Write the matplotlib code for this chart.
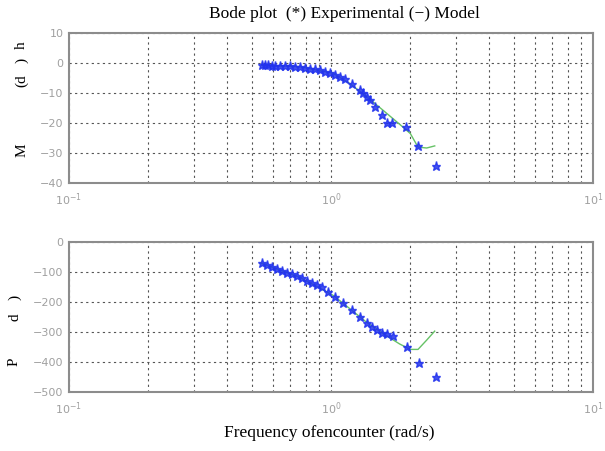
#!/usr/bin/env python3
"""Bode plot: experimental points (*) vs model line (-)."""

import matplotlib
matplotlib.use('Agg')

import matplotlib.pyplot as plt

# Experimental data - magnitude
freq_mag = [0.544, 0.560, 0.576, 0.594, 0.611, 0.639, 0.667, 0.698, 0.729, 0.762,
            0.796, 0.832, 0.869, 0.908, 0.949, 0.991, 1.036, 1.083, 1.131, 1.20,
            1.29, 1.33, 1.37, 1.41, 1.47, 1.56, 1.63, 1.71, 1.94, 2.15, 2.51]
mag_exp = [-0.7, -0.7, -0.7, -0.8, -0.9, -0.9, -1.0, -1.0, -1.2, -1.3,
           -1.6, -1.8, -2.0, -2.3, -2.9, -3.4, -4.0, -4.6, -5.4, -6.8,
           -9.0, -10.1, -11.2, -12.3, -14.6, -17.4, -19.9, -20.1, -21.4, -27.6, -34.2]

# Experimental data - phase
freq_pha = [0.544, 0.568, 0.594, 0.620, 0.648, 0.677, 0.708, 0.740, 0.773, 0.808,
            0.844, 0.882, 0.922, 0.977, 1.036, 1.114, 1.200, 1.290, 1.369, 1.430,
            1.494, 1.561, 1.632, 1.729, 1.945, 2.167, 2.51]
phase_exp = [-71, -77, -84, -91, -96, -102, -107, -113, -121, -129,
             -138, -143, -151, -166, -182, -204, -227, -249, -269, -282,
             -293, -302, -307, -313, -351, -402, -451]

# Model
freq_mod = [0.544, 0.762, 1.02, 1.18, 1.37, 1.58, 1.83, 2.01, 2.15, 2.32, 2.49]
mag_mod = [-0.7, -1.2, -3.4, -6.8, -11.2, -15.7, -20.4, -23.5, -28.0, -28.3, -27.6]
phase_mod = [-71, -118, -178, -222, -268, -305, -340, -358, -358, -327, -297]

MAG_TICKS = [10, 0, -10, -20, -30, -40]
PHASE_TICKS = [0, -100, -200, -300, -400, -500]

COLOR_EXP = '#2233ee'
COLOR_MOD = '#66c266'
COLOR_FRAME = '#8c8c8c'
COLOR_TICK = '#a0a0a0'

plt.rcParams['font.family'] = ['Liberation Serif', 'DejaVu Serif']

fig = plt.figure(figsize=(6.05, 4.51), dpi=100)
ax1 = fig.add_axes([0.114, 0.594, 0.866, 0.3326])
ax2 = fig.add_axes([0.114, 0.1308, 0.866, 0.3326])


def style_axis(ax, yticks):
    ax.set_xscale('log')
    ax.set_xlim(0.1, 10)
    ax.set_ylim(yticks[-1], yticks[0])
    ax.set_yticks(yticks)
    ax.set_xticks([0.1, 1, 10])
    ax.set_xticklabels([r'$10^{-1}$', r'$10^{0}$', r'$10^{1}$'])
    ax.grid(True, which='both', linestyle=(0, (2, 3)), color='#555555', linewidth=0.8)
    for sp in ax.spines.values():
        sp.set_color(COLOR_FRAME)
        sp.set_linewidth(1.5)
    ax.tick_params(which='both', length=0, colors=COLOR_TICK, labelsize=8)
    for lab in ax.get_yticklabels() + ax.get_xticklabels():
        lab.set_family('DejaVu Sans')
    ax.tick_params(axis='y', pad=4)
    ax.tick_params(axis='x', pad=6)


style_axis(ax1, MAG_TICKS)
style_axis(ax2, PHASE_TICKS)

ax1.plot(freq_mod, mag_mod, color=COLOR_MOD, linewidth=1.0)
ax1.plot(freq_mag, mag_exp, '*', color=COLOR_EXP, markersize=6.5, alpha=0.85)
ax2.plot(freq_mod, phase_mod, color=COLOR_MOD, linewidth=1.0)
ax2.plot(freq_pha, phase_exp, '*', color=COLOR_EXP, markersize=6.5, alpha=0.85)

fig.text(0.57, 0.968, 'Bode plot  (*) Experimental (\u2212) Model',
         ha='center', va='center', fontsize=12.5)
fig.text(0.545, 0.04, 'Frequency ofencounter (rad/s)',
         ha='center', va='center', fontsize=12.5)

# garbled y labels as in the original
fig.text(0.036, 0.668, 'M', rotation=90, ha='center', va='center', fontsize=11)
fig.text(0.036, 0.822, '(d', rotation=90, ha='center', va='center', fontsize=11)
fig.text(0.036, 0.866, ')', rotation=90, ha='center', va='center', fontsize=11)
fig.text(0.036, 0.9, 'h', rotation=90, ha='center', va='center', fontsize=11)
fig.text(0.024, 0.197, 'P', rotation=90, ha='center', va='center', fontsize=11)
fig.text(0.024, 0.297, 'd', rotation=90, ha='center', va='center', fontsize=11)
fig.text(0.024, 0.34, ')', rotation=90, ha='center', va='center', fontsize=11)

fig.savefig('out.png', dpi=100, facecolor='white')
